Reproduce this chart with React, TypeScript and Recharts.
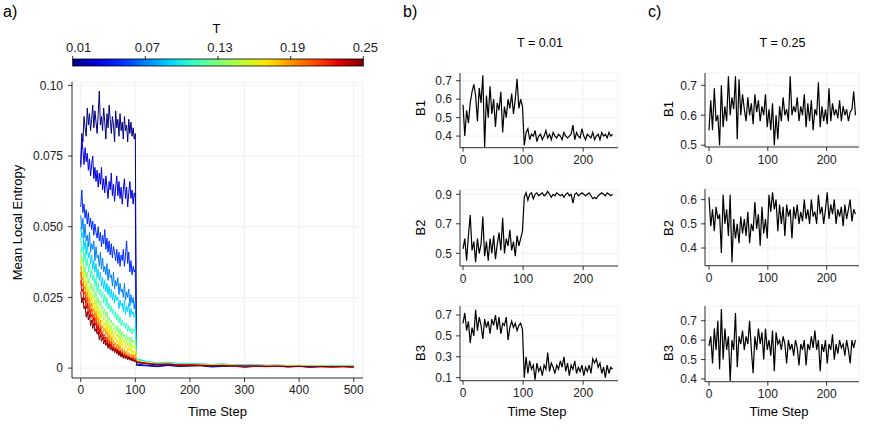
import React from 'react';
import { LineChart, Line, XAxis, YAxis, CartesianGrid } from 'recharts';

const FONT = '"Liberation Sans", Arial, Helvetica, sans-serif';
const TICK_FILL = '#222222';
const GRID = '#EBEBEB';

// ---------- Panel a data ----------
const A_TIME = [0, 2, 4, 6, 8, 10, 12, 14, 16, 18, 20, 22, 24, 26, 28, 30, 32, 34, 36, 38, 40, 42, 44, 46, 48, 50,
  52, 54, 56, 58, 60, 62, 64, 66, 68, 70, 72, 74, 76, 78, 80, 82, 84, 86, 88, 90, 92, 94, 96, 98, 100,
  102, 120, 140, 160, 180, 200, 220, 240, 260, 280, 300, 320, 340, 360, 380, 400, 420, 440, 460, 480, 500];

const T_VALUES = [0.01, 0.03, 0.05, 0.07, 0.09, 0.11, 0.13, 0.15, 0.17, 0.19, 0.21, 0.23, 0.25];
const T_COLORS = ['#000080', '#0000E0', '#002AFF', '#0080FF', '#00D4FF', '#37FFC0', '#7BFF7B',
  '#C0FF37', '#FFE600', '#FF9700', '#FF4900', '#E00000', '#800000'];
const T_TICKS = [0.01, 0.07, 0.13, 0.19, 0.25];
const T_TICK_LABELS = ['0.01', '0.07', '0.13', '0.19', '0.25'];

const ENT_T01 = [0.072, 0.083, 0.080, 0.089, 0.085, 0.082, 0.092, 0.086, 0.090, 0.084, 0.088, 0.093, 0.085, 0.091, 0.087, 0.083, 0.090, 0.098, 0.086, 0.089,
  0.084, 0.092, 0.087, 0.081, 0.090, 0.085, 0.093, 0.088, 0.083, 0.089, 0.086, 0.080, 0.091, 0.085, 0.088, 0.082, 0.090, 0.084, 0.087, 0.081,
  0.089, 0.084, 0.086, 0.080, 0.088, 0.083, 0.087, 0.082, 0.085, 0.081, 0.083,
  0.0010, 0.0008, 0.0005, 0.0009, 0.0006, 0.0007, 0.0008, 0.0004, 0.0006, 0.0007, 0.0003, 0.0006, 0.0005, 0.0007, 0.0004, 0.0006, 0.0003, 0.0005, 0.0004, 0.0006, 0.0003];
const ENT_T03 = [0.071, 0.081, 0.077, 0.072, 0.078, 0.073, 0.076, 0.070, 0.074, 0.068, 0.072, 0.075, 0.067, 0.071, 0.066, 0.070, 0.064, 0.069, 0.065, 0.071,
  0.063, 0.067, 0.062, 0.068, 0.064, 0.060, 0.066, 0.063, 0.069, 0.061, 0.065, 0.059, 0.064, 0.068, 0.061, 0.066, 0.060, 0.064, 0.058, 0.063,
  0.067, 0.060, 0.064, 0.057, 0.062, 0.066, 0.060, 0.063, 0.058, 0.062, 0.060,
  0.0014, 0.0010, 0.0008, 0.0011, 0.0007, 0.0009, 0.0010, 0.0006, 0.0008, 0.0009, 0.0005, 0.0007, 0.0006, 0.0008, 0.0005, 0.0007, 0.0004, 0.0006, 0.0005, 0.0006, 0.0005];
const ENT_T05 = [0.057, 0.063, 0.055, 0.058, 0.053, 0.056, 0.051, 0.055, 0.050, 0.053, 0.049, 0.052, 0.047, 0.051, 0.048, 0.046, 0.050, 0.045, 0.048, 0.043,
  0.047, 0.044, 0.049, 0.042, 0.046, 0.041, 0.045, 0.040, 0.044, 0.039, 0.043, 0.041, 0.038, 0.042, 0.037, 0.041, 0.036, 0.040, 0.038, 0.042,
  0.036, 0.040, 0.045, 0.037, 0.041, 0.034, 0.038, 0.033, 0.036, 0.034, 0.035,
  0.0020, 0.0015, 0.0012, 0.0014, 0.0010, 0.0012, 0.0011, 0.0009, 0.0010, 0.0011, 0.0008, 0.0009, 0.0008, 0.0009, 0.0007, 0.0008, 0.0006, 0.0007, 0.0006, 0.0007, 0.0006];
const ENT_T07 = [0.054, 0.049, 0.053, 0.046, 0.051, 0.045, 0.047, 0.043, 0.048, 0.041, 0.044, 0.042, 0.045, 0.038, 0.043, 0.039, 0.040, 0.036, 0.041, 0.035,
  0.039, 0.034, 0.036, 0.033, 0.037, 0.031, 0.035, 0.032, 0.033, 0.029, 0.034, 0.028, 0.031, 0.029, 0.032, 0.026, 0.030, 0.027, 0.028, 0.025,
  0.030, 0.024, 0.027, 0.025, 0.028, 0.022, 0.026, 0.023, 0.025, 0.021, 0.024,
  0.0028, 0.0020, 0.0016, 0.0018, 0.0014, 0.0015, 0.0013, 0.0012, 0.0013, 0.0011, 0.0010, 0.0011, 0.0009, 0.0010, 0.0008, 0.0009, 0.0008, 0.0008, 0.0007, 0.0008, 0.0007];
const ENT_T09 = [0.050, 0.046, 0.048, 0.042, 0.045, 0.040, 0.044, 0.039, 0.041, 0.037, 0.040, 0.035, 0.038, 0.034, 0.037, 0.032, 0.035, 0.031, 0.034, 0.029,
  0.032, 0.028, 0.031, 0.027, 0.030, 0.026, 0.029, 0.025, 0.028, 0.024, 0.027, 0.023, 0.026, 0.024, 0.025, 0.021, 0.024, 0.022, 0.023, 0.020,
  0.024, 0.019, 0.022, 0.020, 0.023, 0.018, 0.021, 0.019, 0.020, 0.018, 0.019,
  0.0034, 0.0024, 0.0019, 0.0021, 0.0016, 0.0017, 0.0015, 0.0013, 0.0015, 0.0012, 0.0011, 0.0012, 0.0010, 0.0011, 0.0009, 0.0010, 0.0009, 0.0009, 0.0008, 0.0009, 0.0008];
const ENT_T11 = [0.046, 0.041, 0.043, 0.038, 0.041, 0.036, 0.039, 0.034, 0.037, 0.032, 0.035, 0.031, 0.033, 0.029, 0.032, 0.027, 0.030, 0.026, 0.028, 0.025,
  0.027, 0.023, 0.026, 0.022, 0.025, 0.021, 0.023, 0.020, 0.022, 0.019, 0.021, 0.018, 0.020, 0.017, 0.019, 0.016, 0.018, 0.015, 0.017, 0.015,
  0.016, 0.014, 0.016, 0.013, 0.015, 0.013, 0.014, 0.012, 0.014, 0.013, 0.014,
  0.0030, 0.0022, 0.0018, 0.0019, 0.0015, 0.0016, 0.0014, 0.0012, 0.0013, 0.0011, 0.0010, 0.0011, 0.0009, 0.0010, 0.0008, 0.0009, 0.0008, 0.0008, 0.0007, 0.0008, 0.0007];
const ENT_T13 = [0.042, 0.037, 0.039, 0.034, 0.036, 0.032, 0.034, 0.030, 0.032, 0.028, 0.030, 0.027, 0.029, 0.025, 0.027, 0.023, 0.025, 0.022, 0.024, 0.021,
  0.022, 0.019, 0.021, 0.018, 0.020, 0.017, 0.018, 0.016, 0.017, 0.015, 0.016, 0.014, 0.015, 0.013, 0.015, 0.012, 0.014, 0.011, 0.013, 0.011,
  0.012, 0.010, 0.012, 0.010, 0.011, 0.009, 0.011, 0.009, 0.010, 0.009, 0.010,
  0.0027, 0.0020, 0.0016, 0.0017, 0.0013, 0.0014, 0.0012, 0.0011, 0.0012, 0.0010, 0.0009, 0.0010, 0.0008, 0.0009, 0.0007, 0.0008, 0.0007, 0.0007, 0.0006, 0.0007, 0.0006];
const ENT_T15 = [0.040, 0.035, 0.036, 0.032, 0.034, 0.029, 0.031, 0.027, 0.029, 0.025, 0.027, 0.024, 0.026, 0.022, 0.024, 0.020, 0.022, 0.019, 0.021, 0.018,
  0.019, 0.017, 0.018, 0.015, 0.017, 0.014, 0.016, 0.013, 0.015, 0.012, 0.014, 0.012, 0.013, 0.011, 0.012, 0.010, 0.012, 0.009, 0.011, 0.009,
  0.010, 0.008, 0.010, 0.008, 0.009, 0.007, 0.009, 0.007, 0.008, 0.007, 0.008,
  0.0026, 0.0019, 0.0015, 0.0016, 0.0013, 0.0013, 0.0012, 0.0010, 0.0011, 0.0010, 0.0009, 0.0009, 0.0008, 0.0008, 0.0007, 0.0008, 0.0006, 0.0007, 0.0006, 0.0006, 0.0006];
const ENT_T17 = [0.038, 0.033, 0.034, 0.030, 0.031, 0.027, 0.029, 0.025, 0.027, 0.023, 0.025, 0.022, 0.023, 0.020, 0.022, 0.018, 0.020, 0.017, 0.019, 0.016,
  0.017, 0.015, 0.016, 0.013, 0.015, 0.012, 0.014, 0.011, 0.013, 0.010, 0.012, 0.010, 0.011, 0.009, 0.010, 0.008, 0.010, 0.008, 0.009, 0.007,
  0.008, 0.007, 0.008, 0.006, 0.0075, 0.006, 0.007, 0.005, 0.0065, 0.005, 0.006,
  0.0025, 0.0019, 0.0015, 0.0016, 0.0012, 0.0013, 0.0011, 0.0010, 0.0011, 0.0009, 0.0008, 0.0009, 0.0008, 0.0008, 0.0007, 0.0007, 0.0006, 0.0007, 0.0006, 0.0006, 0.0005];
const ENT_T19 = [0.036, 0.031, 0.032, 0.028, 0.029, 0.025, 0.027, 0.023, 0.025, 0.021, 0.023, 0.020, 0.021, 0.018, 0.020, 0.016, 0.018, 0.015, 0.017, 0.014,
  0.015, 0.013, 0.014, 0.012, 0.013, 0.010, 0.012, 0.009, 0.011, 0.0085, 0.010, 0.008, 0.009, 0.007, 0.0085, 0.0065, 0.008, 0.006, 0.007, 0.0055,
  0.0065, 0.005, 0.006, 0.0045, 0.0055, 0.004, 0.005, 0.004, 0.005, 0.0035, 0.005,
  0.0024, 0.0018, 0.0014, 0.0015, 0.0012, 0.0012, 0.0011, 0.0010, 0.0010, 0.0009, 0.0008, 0.0008, 0.0007, 0.0008, 0.0006, 0.0007, 0.0006, 0.0006, 0.0005, 0.0006, 0.0005];
const ENT_T21 = [0.034, 0.029, 0.030, 0.026, 0.027, 0.023, 0.025, 0.021, 0.023, 0.019, 0.021, 0.018, 0.019, 0.016, 0.018, 0.014, 0.016, 0.013, 0.015, 0.012,
  0.013, 0.011, 0.012, 0.010, 0.011, 0.009, 0.010, 0.008, 0.0095, 0.007, 0.0085, 0.0065, 0.0075, 0.006, 0.007, 0.005, 0.0065, 0.0045, 0.006, 0.004,
  0.0055, 0.004, 0.005, 0.0035, 0.0045, 0.003, 0.004, 0.003, 0.004, 0.003, 0.0035,
  0.0023, 0.0017, 0.0014, 0.0015, 0.0011, 0.0012, 0.0010, 0.0009, 0.0010, 0.0008, 0.0008, 0.0008, 0.0007, 0.0007, 0.0006, 0.0007, 0.0005, 0.0006, 0.0005, 0.0005, 0.0005];
const ENT_T23 = [0.031, 0.027, 0.028, 0.024, 0.025, 0.021, 0.023, 0.019, 0.021, 0.018, 0.019, 0.016, 0.018, 0.015, 0.016, 0.013, 0.015, 0.012, 0.014, 0.011,
  0.012, 0.010, 0.011, 0.009, 0.010, 0.008, 0.009, 0.0075, 0.0085, 0.0065, 0.0075, 0.006, 0.007, 0.0055, 0.0065, 0.0045, 0.006, 0.004, 0.0055, 0.0035,
  0.005, 0.0035, 0.0045, 0.003, 0.004, 0.0028, 0.0038, 0.0025, 0.0035, 0.0025, 0.003,
  0.0022, 0.0017, 0.0013, 0.0014, 0.0011, 0.0011, 0.0010, 0.0009, 0.0009, 0.0008, 0.0007, 0.0008, 0.0006, 0.0007, 0.0006, 0.0006, 0.0005, 0.0006, 0.0005, 0.0005, 0.0004];
const ENT_T25 = [0.027, 0.023, 0.025, 0.021, 0.022, 0.018, 0.020, 0.017, 0.019, 0.015, 0.017, 0.014, 0.016, 0.013, 0.014, 0.012, 0.013, 0.010, 0.012, 0.0095,
  0.011, 0.0085, 0.010, 0.008, 0.009, 0.007, 0.0085, 0.0065, 0.0075, 0.006, 0.007, 0.0055, 0.0065, 0.005, 0.006, 0.0045, 0.0055, 0.004, 0.005, 0.0035,
  0.0045, 0.0032, 0.0042, 0.003, 0.004, 0.0028, 0.0035, 0.0025, 0.0032, 0.0022, 0.0028,
  0.0020, 0.0016, 0.0012, 0.0013, 0.0010, 0.0011, 0.0009, 0.0008, 0.0009, 0.0007, 0.0007, 0.0007, 0.0006, 0.0006, 0.0005, 0.0006, 0.0005, 0.0005, 0.0004, 0.0005, 0.0004];

const A_SERIES = [ENT_T01, ENT_T03, ENT_T05, ENT_T07, ENT_T09, ENT_T11, ENT_T13, ENT_T15, ENT_T17, ENT_T19, ENT_T21, ENT_T23, ENT_T25];
const A_X_TICKS = [0, 100, 200, 300, 400, 500];
const A_Y_TICKS = [0, 0.025, 0.05, 0.075, 0.1];
const A_Y_LABELS = ['0', '0.025', '0.050', '0.075', '0.10'];

// ---------- Panels b, c data ----------
const SMALL_TIME = [0, 3, 6, 9, 12, 15, 18, 21, 24, 27, 30, 33, 36, 39, 42, 45, 48, 51, 54, 57, 60, 63, 66, 69, 72, 75, 78, 81, 84, 87, 90, 93, 96, 99,
  102, 105, 108, 111, 114, 117, 120, 123, 126, 129, 132, 135, 138, 141, 144, 147, 150, 153, 156, 159, 162, 165, 168, 171, 174, 177,
  180, 183, 186, 189, 192, 195, 198, 201, 204, 207, 210, 213, 216, 219, 222, 225, 228, 231, 234, 237, 240, 243, 246, 249];
const SMALL_X_TICKS = [0, 100, 200];

const B1_LOW = [0.57, 0.40, 0.54, 0.47, 0.58, 0.64, 0.68, 0.62, 0.48, 0.66, 0.58, 0.73, 0.34, 0.62, 0.50, 0.67, 0.52, 0.60, 0.45, 0.58,
  0.54, 0.64, 0.42, 0.56, 0.50, 0.60, 0.55, 0.63, 0.52, 0.60, 0.71, 0.55, 0.60, 0.56,
  0.35, 0.42, 0.44, 0.38, 0.41, 0.40, 0.43, 0.37, 0.40, 0.41, 0.38, 0.40, 0.43, 0.39, 0.41, 0.38, 0.42, 0.40, 0.39, 0.41,
  0.40, 0.38, 0.42, 0.40, 0.39, 0.40, 0.41, 0.46, 0.38, 0.42, 0.40, 0.39, 0.44, 0.40, 0.38, 0.41, 0.40, 0.39, 0.42, 0.38,
  0.40, 0.41, 0.38, 0.42, 0.40, 0.41, 0.39, 0.42, 0.40, 0.41];
const B2_LOW = [0.53, 0.60, 0.45, 0.62, 0.76, 0.52, 0.58, 0.44, 0.60, 0.50, 0.56, 0.75, 0.48, 0.58, 0.45, 0.60, 0.50, 0.62, 0.46, 0.56,
  0.64, 0.52, 0.74, 0.50, 0.60, 0.55, 0.66, 0.52, 0.58, 0.48, 0.62, 0.55, 0.60, 0.65,
  0.88, 0.91, 0.86, 0.90, 0.91, 0.87, 0.90, 0.91, 0.89, 0.90, 0.91, 0.89, 0.90, 0.92, 0.90, 0.88, 0.90, 0.89, 0.91, 0.90,
  0.89, 0.90, 0.88, 0.90, 0.91, 0.89, 0.90, 0.84, 0.90, 0.91, 0.89, 0.90, 0.91, 0.90, 0.89, 0.90, 0.91, 0.89, 0.87, 0.88,
  0.87, 0.89, 0.90, 0.91, 0.90, 0.89, 0.91, 0.90, 0.89, 0.90];
const B3_LOW = [0.62, 0.72, 0.55, 0.64, 0.43, 0.58, 0.50, 0.75, 0.55, 0.68, 0.60, 0.47, 0.66, 0.58, 0.64, 0.52, 0.66, 0.60, 0.70, 0.56,
  0.68, 0.52, 0.62, 0.60, 0.68, 0.46, 0.58, 0.64, 0.58, 0.62, 0.55, 0.60, 0.62, 0.56,
  0.10, 0.30, 0.14, 0.26, 0.18, 0.22, 0.08, 0.24, 0.16, 0.20, 0.12, 0.22, 0.18, 0.34, 0.16, 0.24, 0.20, 0.14, 0.22, 0.18,
  0.26, 0.20, 0.30, 0.16, 0.24, 0.12, 0.22, 0.18, 0.26, 0.14, 0.20, 0.16, 0.22, 0.12, 0.20, 0.16, 0.22, 0.14, 0.28, 0.24,
  0.28, 0.20, 0.24, 0.14, 0.20, 0.10, 0.22, 0.14, 0.20, 0.18];
const B1_HIGH = [0.55, 0.65, 0.55, 0.69, 0.58, 0.60, 0.50, 0.70, 0.56, 0.63, 0.58, 0.73, 0.60, 0.66, 0.62, 0.73, 0.52, 0.72, 0.60, 0.67,
  0.62, 0.58, 0.66, 0.60, 0.64, 0.57, 0.67, 0.61, 0.65, 0.58, 0.63, 0.60, 0.67, 0.56,
  0.62, 0.55, 0.64, 0.50, 0.60, 0.52, 0.63, 0.58, 0.66, 0.60, 0.62, 0.58, 0.73, 0.60, 0.63, 0.61, 0.66, 0.58, 0.63, 0.60,
  0.67, 0.56, 0.64, 0.58, 0.65, 0.55, 0.62, 0.60, 0.71, 0.56, 0.63, 0.58, 0.62, 0.57, 0.69, 0.58, 0.64, 0.60, 0.62, 0.59,
  0.65, 0.58, 0.63, 0.60, 0.62, 0.58, 0.61, 0.62, 0.68, 0.60];
const B2_HIGH = [0.61, 0.49, 0.56, 0.47, 0.57, 0.52, 0.54, 0.38, 0.62, 0.50, 0.56, 0.45, 0.62, 0.34, 0.52, 0.44, 0.50, 0.42, 0.53, 0.46,
  0.52, 0.45, 0.55, 0.42, 0.50, 0.47, 0.59, 0.48, 0.54, 0.41, 0.57, 0.46, 0.52, 0.44,
  0.62, 0.55, 0.63, 0.56, 0.60, 0.47, 0.58, 0.50, 0.57, 0.45, 0.58, 0.53, 0.56, 0.44, 0.57, 0.52, 0.58, 0.50, 0.55, 0.51,
  0.60, 0.52, 0.56, 0.50, 0.60, 0.53, 0.55, 0.50, 0.62, 0.54, 0.57, 0.50, 0.56, 0.63, 0.52, 0.58, 0.54, 0.60, 0.50, 0.56,
  0.53, 0.57, 0.49, 0.58, 0.52, 0.56, 0.60, 0.51, 0.56, 0.54];
const B3_HIGH = [0.57, 0.62, 0.48, 0.66, 0.55, 0.70, 0.45, 0.76, 0.50, 0.66, 0.55, 0.62, 0.39, 0.60, 0.55, 0.74, 0.46, 0.62, 0.58, 0.65,
  0.55, 0.62, 0.58, 0.70, 0.55, 0.43, 0.62, 0.55, 0.66, 0.58, 0.64, 0.50, 0.66, 0.55,
  0.60, 0.52, 0.65, 0.44, 0.64, 0.58, 0.60, 0.55, 0.62, 0.58, 0.48, 0.60, 0.55, 0.58, 0.52, 0.60, 0.56, 0.47, 0.58, 0.55,
  0.60, 0.47, 0.58, 0.55, 0.62, 0.56, 0.65, 0.55, 0.60, 0.44, 0.58, 0.54, 0.60, 0.48, 0.58, 0.55, 0.63, 0.50, 0.58, 0.53,
  0.60, 0.56, 0.58, 0.52, 0.60, 0.55, 0.48, 0.60, 0.56, 0.60];

const tickStyle = { fill: TICK_FILL, fontSize: 12, fontFamily: FONT };

function PanelA() {
  const data = A_TIME.map((t, i) => {
    const row: Record<string, number> = { t };
    A_SERIES.forEach((s, j) => { row['s' + j] = s[i]; });
    return row;
  });
  return (
    <div style={{ position: 'absolute', left: 0, top: 0 }}>
      <LineChart width={380} height={410} data={data} margin={{ top: 82, right: 17, bottom: 2, left: 0 }}>
        <CartesianGrid stroke={GRID} strokeWidth={0.7} />
        <XAxis type="number" dataKey="t" domain={[-16, 517]} ticks={A_X_TICKS} allowDataOverflow interval={0}
          height={30} tickSize={4} tickMargin={3} axisLine={{ stroke: '#000', strokeWidth: 0.8 }}
          tickLine={{ stroke: '#000', strokeWidth: 0.8 }} tick={tickStyle} />
        <YAxis type="number" domain={[-0.0035, 0.1012]} ticks={A_Y_TICKS} allowDataOverflow interval={0}
          width={72} tickSize={4} tickMargin={5} axisLine={{ stroke: '#000', strokeWidth: 0.8 }}
          tickLine={{ stroke: '#000', strokeWidth: 0.8 }} tick={tickStyle}
          tickFormatter={(v: number, i: number) => A_Y_LABELS[i]} />
        {A_SERIES.map((_, j) => (
          <Line key={j} type="linear" dataKey={'s' + j} stroke={T_COLORS[j]} strokeWidth={1}
            dot={false} activeDot={false} isAnimationActive={false} />
        ))}
      </LineChart>
    </div>
  );
}

type SmallProps = {
  left: number; top: number; w: number; h: number;
  xDomain: [number, number]; yDomain: [number, number]; yTicks: number[]; values: number[];
};

function Small({ left, top, w, h, xDomain, yDomain, yTicks, values }: SmallProps) {
  const YW = 40, MT = 6, XH = 24, MR = 4;
  const data = SMALL_TIME.map((t, i) => ({ t, v: values[i] }));
  return (
    <div style={{ position: 'absolute', left: left - YW, top: top - MT }}>
      <LineChart width={YW + w + MR} height={MT + h + XH} data={data} margin={{ top: MT, right: MR, bottom: 0, left: 0 }}>
        <CartesianGrid stroke={GRID} strokeWidth={0.7} />
        <XAxis type="number" dataKey="t" domain={xDomain} ticks={SMALL_X_TICKS} allowDataOverflow interval={0}
          height={XH} tickSize={4} tickMargin={4} axisLine={{ stroke: '#000', strokeWidth: 0.8 }}
          tickLine={{ stroke: '#000', strokeWidth: 0.8 }} tick={tickStyle} />
        <YAxis type="number" domain={yDomain} ticks={yTicks} allowDataOverflow interval={0}
          width={YW} tickSize={4} tickMargin={4} axisLine={{ stroke: '#000', strokeWidth: 0.8 }}
          tickLine={{ stroke: '#000', strokeWidth: 0.8 }} tick={tickStyle} />
        <Line type="linear" dataKey="v" stroke="#000" strokeWidth={1.2} dot={false} activeDot={false}
          isAnimationActive={false} />
      </LineChart>
    </div>
  );
}

function Overlay() {
  const cbX0 = 72.7, cbX1 = 363.3, cbY = 59, cbH = 7;
  const tx = (t: number) => cbX0 + ((t - T_VALUES[0]) / (T_VALUES[T_VALUES.length - 1] - T_VALUES[0])) * (cbX1 - cbX0);
  const txt = { fontFamily: FONT, fill: '#000' } as const;
  return (
    <svg width={871} height={436} style={{ position: 'absolute', left: 0, top: 0, pointerEvents: 'none' }}>
      <defs>
        <linearGradient id="jet" x1="0" x2="1" y1="0" y2="0">
          {T_COLORS.map((c, i) => (
            <stop key={i} offset={i / (T_COLORS.length - 1)} stopColor={c} />
          ))}
        </linearGradient>
      </defs>
      <text x={3} y={17} fontSize={16} {...txt}>a)</text>
      <text x={403} y={17} fontSize={16} {...txt}>b)</text>
      <text x={648} y={17} fontSize={16} {...txt}>c)</text>

      <text x={216.5} y={33} fontSize={13} textAnchor="middle" {...txt}>T</text>
      <rect x={cbX0} y={cbY} width={cbX1 - cbX0} height={cbH} fill="url(#jet)" stroke="#000" strokeWidth={0.8} />
      {T_TICKS.map((t, i) => (
        <g key={i}>
          <line x1={tx(t)} x2={tx(t)} y1={56} y2={59.5} stroke="#000" strokeWidth={0.8} />
          <text x={i === 0 ? tx(t) + 6 : tx(t) + 2} y={51.5} fontSize={13} textAnchor="middle" fill="#222" fontFamily={FONT}>{T_TICK_LABELS[i]}</text>
        </g>
      ))}

      <text x={17} y={222.5} fontSize={13} textAnchor="middle" dominantBaseline="central"
        transform="rotate(-90 17 222.5)" {...txt}>Mean Local Entropy</text>
      <text x={217.5} y={416} fontSize={13} textAnchor="middle" {...txt}>Time Step</text>

      <text x={540} y={46.5} fontSize={12.5} textAnchor="middle" {...txt}>T = 0.01</text>
      <text x={782.5} y={46.5} fontSize={12.5} textAnchor="middle" {...txt}>T = 0.25</text>

      <text x={420} y={108} fontSize={13} textAnchor="middle" dominantBaseline="central" transform="rotate(-90 420 108)" {...txt}>B1</text>
      <text x={420} y={227.5} fontSize={13} textAnchor="middle" dominantBaseline="central" transform="rotate(-90 420 227.5)" {...txt}>B2</text>
      <text x={420} y={353} fontSize={13} textAnchor="middle" dominantBaseline="central" transform="rotate(-90 420 353)" {...txt}>B3</text>
      <text x={668} y={109} fontSize={13} textAnchor="middle" dominantBaseline="central" transform="rotate(-90 668 109)" {...txt}>B1</text>
      <text x={668.5} y={228} fontSize={13} textAnchor="middle" dominantBaseline="central" transform="rotate(-90 668.5 228)" {...txt}>B2</text>
      <text x={668} y={353} fontSize={13} textAnchor="middle" dominantBaseline="central" transform="rotate(-90 668 353)" {...txt}>B3</text>

      <text x={537} y={416} fontSize={13} textAnchor="middle" {...txt}>Time Step</text>
      <text x={779} y={416} fontSize={13} textAnchor="middle" {...txt}>Time Step</text>
    </svg>
  );
}

export default function App() {
  const bX: [number, number] = [-5, 258];
  const cX: [number, number] = [-6.8, 255];
  return (
    <div style={{ position: 'absolute', left: 0, top: 0, width: 871, height: 436, background: '#fff', overflow: 'hidden' }}>
      <PanelA />
      <Small left={460} top={73} w={158} h={74.7} xDomain={bX} yDomain={[0.337, 0.742]} yTicks={[0.4, 0.5, 0.6, 0.7]} values={B1_LOW} />
      <Small left={460} top={190} w={158} h={76} xDomain={bX} yDomain={[0.414, 0.929]} yTicks={[0.5, 0.7, 0.9]} values={B2_LOW} />
      <Small left={460} top={306} w={158} h={74.7} xDomain={bX} yDomain={[0.071, 0.786]} yTicks={[0.1, 0.3, 0.5, 0.7]} values={B3_LOW} />
      <Small left={705} top={72.7} w={154} h={74} xDomain={cX} yDomain={[0.494, 0.741]} yTicks={[0.5, 0.6, 0.7]} values={B1_HIGH} />
      <Small left={705} top={189.3} w={154} h={76.7} xDomain={cX} yDomain={[0.327, 0.644]} yTicks={[0.4, 0.5, 0.6]} values={B2_HIGH} />
      <Small left={705} top={306} w={154} h={75.7} xDomain={cX} yDomain={[0.386, 0.776]} yTicks={[0.4, 0.5, 0.6, 0.7]} values={B3_HIGH} />
      <Overlay />
    </div>
  );
}
